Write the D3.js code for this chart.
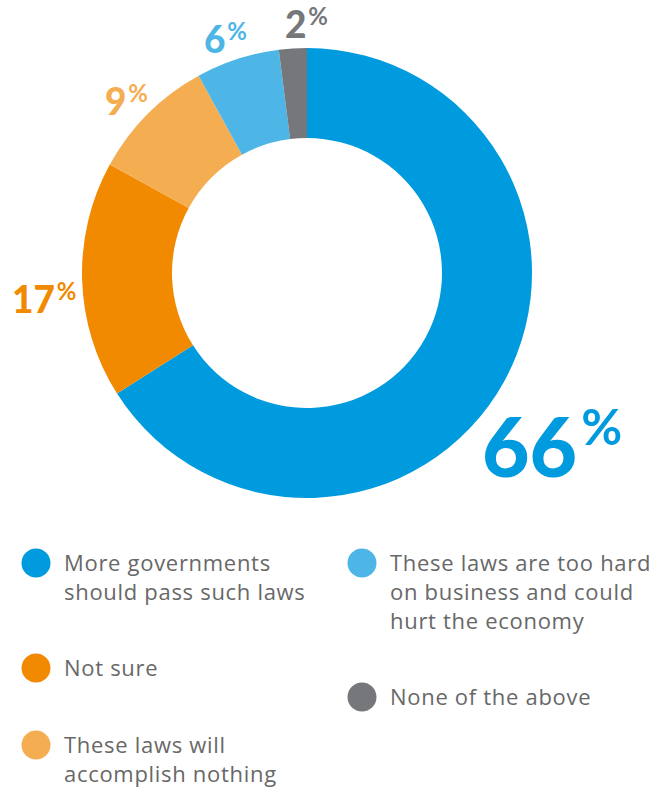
<!DOCTYPE html>
<html><head><meta charset="utf-8">
<script src="https://cdn.jsdelivr.net/npm/d3@7"></script>
<style>html,body{margin:0;padding:0;background:#fff;}svg{display:block;}</style>
</head><body>
<svg id="chart" width="663" height="788"></svg>
<script>
const categories = [
  "More governments should pass such laws",
  "Not sure",
  "These laws will accomplish nothing",
  "These laws are too hard on business and could hurt the economy",
  "None of the above"
];
const values = [66, 17, 9, 6, 2];
const colors = ["#009ade", "#f18a00", "#f5ad52", "#4db6e6", "#75777b"];
const legendLines = [
  ["More governments", "should pass such laws"],
  ["Not sure"],
  ["These laws will", "accomplish nothing"],
  ["These laws are too hard", "on business and could", "hurt the economy"],
  ["None of the above"]
];

// layout (not data)
const W = 663, cx = 307, cy = 273, rOuter = 225, rInner = 135;
const labelLayout = [
  {x: 482, y: 477, size: 82, pSize: 50, pdy: -32},
  {x: 12, y: 313, size: 37, pSize: 24, pdy: -13},
  {x: 105, y: 115, size: 37, pSize: 24, pdy: -13},
  {x: 204, y: 53, size: 37, pSize: 24, pdy: -13},
  {x: 285, y: 38, size: 37, pSize: 24, pdy: -13}
];
const legendPos = [
  {cx: 36, cy: 563}, {cx: 36, cy: 668}, {cx: 36, cy: 745},
  {cx: 362, cy: 563}, {cx: 362, cy: 697}
];

const svg = d3.select("#chart");
const pie = d3.pie().sort(null).value(d => d)(values);
const arc = d3.arc().innerRadius(rInner).outerRadius(rOuter);
const g = svg.append("g").attr("transform", `translate(${cx},${cy})`);
g.selectAll("path").data(pie).join("path")
  .attr("d", arc).attr("fill", (d, i) => colors[i]);

const labels = svg.append("g").selectAll("text").data(pie).join("text")
  .attr("x", (d, i) => labelLayout[i].x)
  .attr("y", (d, i) => labelLayout[i].y)
  .attr("fill", (d, i) => colors[i])
  .style("font-family", "Lato, 'Open Sans', sans-serif")
  .style("font-weight", 900)
  .style("font-size", (d, i) => labelLayout[i].size + "px");
labels.append("tspan").text(d => d.data);
labels.append("tspan").text("%")
  .attr("dx", (d, i) => labelLayout[i].size * 0.05)
  .attr("dy", (d, i) => labelLayout[i].pdy)
  .style("font-weight", 700)
  .style("font-size", (d, i) => labelLayout[i].pSize + "px");

const leg = svg.append("g").selectAll("g").data(categories).join("g");
leg.append("circle")
  .attr("cx", (d, i) => legendPos[i].cx)
  .attr("cy", (d, i) => legendPos[i].cy)
  .attr("r", 14.5)
  .attr("fill", (d, i) => colors[i]);
leg.each(function(d, i) {
  const t = d3.select(this).append("text")
    .attr("fill", "#686868")
    .style("font-family", "'Open Sans', sans-serif")
    .style("font-size", "22px")
    .style("letter-spacing", "0.7px");
  legendLines[i].forEach((line, j) => {
    t.append("tspan")
      .attr("x", legendPos[i].cx + 28)
      .attr("y", legendPos[i].cy + 8 + j * 29)
      .text(line);
  });
});
</script>
</body></html>
